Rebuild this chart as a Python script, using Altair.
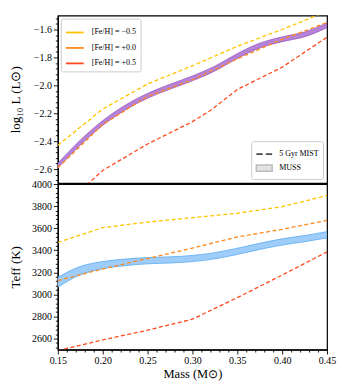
import altair as alt
import pandas as pd

FONT = "Liberation Serif"

# ---------------- data ----------------
feh_labels = ["[Fe/H] = −0.5", "[Fe/H] = +0.0", "[Fe/H] = +0.5"]
feh_colors = ["#ffc400", "#ff8a1c", "#ff4a1c"]

mist_mass = [0.15, 0.20, 0.25, 0.30, 0.35, 0.40, 0.45]
# log10 L (Lsun), 5 Gyr MIST
lum_m05 = [-2.43, -2.17, -1.99, -1.86, -1.72, -1.60, -1.47]
lum_p00 = [-2.59, -2.28, -2.08, -1.96, -1.81, -1.67, -1.55]
lum_p05_mass = [0.15, 0.20, 0.25, 0.30, 0.32, 0.35, 0.40, 0.45]
lum_p05 = [-2.90, -2.61, -2.42, -2.26, -2.18, -2.03, -1.87, -1.655]
# Teff (K), 5 Gyr MIST
teff_m05 = [3470, 3605, 3655, 3695, 3735, 3795, 3895]
teff_p00 = [3125, 3230, 3325, 3420, 3520, 3590, 3670]
teff_p05 = [2490, 2588, 2675, 2775, 2970, 3175, 3385]

# MUSS bands
muss_mass = [0.15, 0.175, 0.20, 0.225, 0.25, 0.275, 0.30, 0.325, 0.35, 0.375, 0.40, 0.425, 0.45]
muss_lum = [-2.575, -2.41, -2.27, -2.16, -2.075, -2.01, -1.95, -1.88, -1.79, -1.715, -1.67, -1.635, -1.57]
muss_lum_err = [0.017] * 13
muss_teff = [3110, 3215, 3265, 3290, 3305, 3312, 3325, 3350, 3390, 3435, 3475, 3505, 3540]
muss_teff_err = [45, 38, 32, 30, 28, 28, 28, 28, 28, 28, 28, 28, 28]

model_labels = ["5 Gyr MIST", "MUSS"]

# ticks
x_ticks = [round(0.15 + 0.01 * i, 2) for i in range(31)]
ytop_ticks = [round(-2.68 + 0.04 * i, 2) for i in range(30)]
ybot_ticks = [2520 + 40 * i for i in range(38)]

# ---------------- tables ----------------
def long(masses, values, label):
    return pd.DataFrame({"mass": masses, "value": values, "feh": label})

lum_df = pd.concat([
    long(mist_mass, lum_m05, feh_labels[0]),
    long(mist_mass, lum_p00, feh_labels[1]),
    long(lum_p05_mass, lum_p05, feh_labels[2]),
])
teff_df = pd.concat([
    long(mist_mass, teff_m05, feh_labels[0]),
    long(mist_mass, teff_p00, feh_labels[1]),
    long(mist_mass, teff_p05, feh_labels[2]),
])
muss_df = pd.DataFrame({
    "mass": muss_mass,
    "lum_lo": [v - e for v, e in zip(muss_lum, muss_lum_err)],
    "lum_hi": [v + e for v, e in zip(muss_lum, muss_lum_err)],
    "teff_lo": [v - e for v, e in zip(muss_teff, muss_teff_err)],
    "teff_hi": [v + e for v, e in zip(muss_teff, muss_teff_err)],
})
legend_df = pd.DataFrame({"model": model_labels, "mass": [0.3, 0.3], "value": [-2.0, -2.0]})

# ---------------- scales / axes ----------------
xscale = alt.Scale(domain=[0.15, 0.45], nice=False, zero=False)
ytop_scale = alt.Scale(domain=[-2.7, -1.5], nice=False, zero=False)
ybot_scale = alt.Scale(domain=[2500, 4000], nice=False, zero=False)

x_axis = alt.Axis(
    values=x_ticks,
    labelExpr="round(datum.value*100) % 5 == 0 ? format(datum.value, '.2f') : ''",
    tickSize={"condition": {"test": "round(datum.value*100) % 5 == 0", "value": 4.5}, "value": 2.5},
    labelFlush=False, labelOverlap=False, labelPadding=1.5, titlePadding=2, titleFontSize=12.5,
)
ytop_axis = alt.Axis(
    values=ytop_ticks,
    labelExpr="round(datum.value*100) % 20 == 0 ? format(datum.value, '.1f') : ''",
    tickSize={"condition": {"test": "round(datum.value*100) % 20 == 0", "value": 4.5}, "value": 2.5},
    labelFlush=False, labelOverlap=False, labelPadding=2, titlePadding=11,
)
ybot_axis = alt.Axis(
    values=ybot_ticks,
    labelExpr="round(datum.value) % 200 == 0 ? format(datum.value, 'd') : ''",
    tickSize={"condition": {"test": "round(datum.value) % 200 == 0", "value": 4.5}, "value": 2.5},
    labelFlush=False, labelOverlap=False, labelPadding=2, titlePadding=9,
)

X_TOP = alt.X("mass:Q", scale=xscale, axis=None)
X_BOT = alt.X("mass:Q", scale=xscale, axis=x_axis, title="Mass (M⊙)")
TOP_TITLE = "log₁₀ L (L⊙)"
BOT_TITLE = "Teff (K)"

feh_legend = alt.Legend(
    title=None, orient="top-left", offset=3, symbolType="stroke", symbolSize=320,
    symbolStrokeWidth=1.8, symbolDash=[30, 0], labelFontSize=8, labelFont=FONT,
    fillColor="white", strokeColor="#cccccc", cornerRadius=2, padding=4, rowPadding=1.5,
    labelOffset=7,
)
model_legend = alt.Legend(
    title=None, orient="bottom-right", offset=4, symbolSize=250,
    symbolStrokeWidth=1.6, labelFontSize=8, labelFont=FONT,
    fillColor="white", strokeColor="#cccccc", cornerRadius=2, padding=4, rowPadding=1,
    labelOffset=6,
)

dash_path = "M-1,0H-0.2M0.2,0H1"
rect_path = "M-1,-0.4H1V0.4H-1Z"

# ---------------- top panel ----------------
top_band = alt.Chart(muss_df).mark_area(
    interpolate="monotone", fill="#b584d8", stroke="#9a55c0", strokeWidth=0.8, clip=True
).encode(
    x=X_TOP,
    y=alt.Y("lum_lo:Q", scale=ytop_scale, axis=ytop_axis, title=TOP_TITLE),
    y2="lum_hi:Q",
)
top_lines = alt.Chart(lum_df).mark_line(strokeDash=[4, 2.5], strokeWidth=1.3, clip=True).encode(
    x=X_TOP,
    y=alt.Y("value:Q", scale=ytop_scale, axis=ytop_axis, title=TOP_TITLE),
    color=alt.Color("feh:N", scale=alt.Scale(domain=feh_labels, range=feh_colors), legend=feh_legend),
    detail="feh:N",
)
# legend-only layer (invisible marks)
top_dummy = alt.Chart(legend_df).mark_point(filled=True, strokeWidth=1.6, size=0).encode(
    x=X_TOP,
    y=alt.Y("value:Q", scale=ytop_scale, axis=ytop_axis, title=TOP_TITLE),
    shape=alt.Shape("model:N", scale=alt.Scale(domain=model_labels, range=[dash_path, rect_path]), legend=model_legend),
    fill=alt.Fill("model:N", scale=alt.Scale(domain=model_labels, range=["transparent", "#c8c8c8"]), legend=model_legend),
    stroke=alt.Stroke("model:N", scale=alt.Scale(domain=model_labels, range=["black", "#a0a0a0"]), legend=model_legend),
)
top = alt.layer(top_band, top_lines, top_dummy).properties(width=270, height=168)

# ---------------- bottom panel ----------------
bot_band = alt.Chart(muss_df).mark_area(
    interpolate="monotone", fill="#9fcdfa", stroke="#5aa9f0", strokeWidth=0.8, clip=True
).encode(
    x=X_BOT,
    y=alt.Y("teff_lo:Q", scale=ybot_scale, axis=ybot_axis, title=BOT_TITLE),
    y2="teff_hi:Q",
)
bot_lines = alt.Chart(teff_df).mark_line(strokeDash=[4, 2.5], strokeWidth=1.3, clip=True).encode(
    x=X_BOT,
    y=alt.Y("value:Q", scale=ybot_scale, axis=ybot_axis, title=BOT_TITLE),
    color=alt.Color("feh:N", scale=alt.Scale(domain=feh_labels, range=feh_colors), legend=None),
    detail="feh:N",
)
bottom = alt.layer(bot_band, bot_lines).properties(width=270, height=166)

chart = alt.vconcat(top, bottom, spacing=1, bounds="flush").resolve_scale(
    color="independent", shape="independent", fill="independent", stroke="independent"
).resolve_legend(
    color="independent", shape="independent", fill="independent", stroke="independent"
).properties(
    padding={"left": 0, "top": 4, "right": 0, "bottom": 0},
).configure_view(
    stroke="black", strokeWidth=1.2
).configure_axis(
    grid=False, domainColor="black", domainWidth=1.2, tickColor="black", tickWidth=0.9,
    labelColor="black", titleColor="black", labelFont=FONT, titleFont=FONT,
    labelFontSize=10, titleFontSize=13, titleFontWeight="normal",
).configure_legend(
    labelColor="black", labelFont=FONT,
)

chart.save("out.html", embed_options={"renderer": "svg", "actions": False})
